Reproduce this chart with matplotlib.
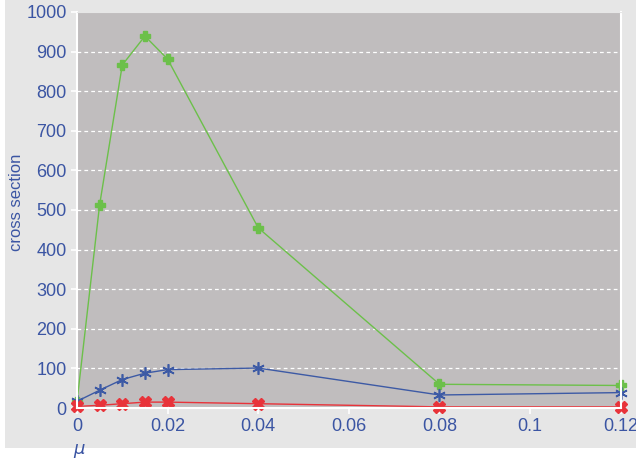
import numpy as np
import matplotlib.pyplot as plt
from matplotlib.patches import Rectangle

plt.rcParams['font.family'] = ['Liberation Sans', 'DejaVu Sans']

mu = [0, 0.005, 0.01, 0.015, 0.02, 0.04, 0.08, 0.12]
green_vals = [15, 513, 866, 939, 881, 455, 60, 57]
blue_vals = [17, 45, 72, 88, 97, 101, 33, 39]
red_vals = [4, 7, 11, 15, 15, 11, 3, 3]

xticks = [0, 0.02, 0.04, 0.06, 0.08, 0.1, 0.12]
xticklabels = ['0', '0.02', '0.04', '0.06', '0.08', '0.1', '0.12']
yticks = list(range(0, 1001, 100))

txt = '#3b55a3'

fig = plt.figure(figsize=(6.36, 4.59), dpi=100)
fig.patch.set_facecolor('white')
# light grey frame behind the plot
fig.add_artist(Rectangle((0.008, 0.024), 0.992, 0.976, transform=fig.transFigure,
                         facecolor='#e6e6e6', edgecolor='none', zorder=-10))

ax = fig.add_axes([0.121, 0.111, 0.855, 0.863])
ax.set_facecolor('#c0bdbe')

for y in yticks[1:-1]:
    ax.axhline(y, color='white', lw=0.9, ls=(0, (3, 2.5)), zorder=1)

ax.plot(mu, green_vals, color='#6cc04a', lw=1.0, marker='P', ms=7,
        mec='#6cc04a', mfc='#6cc04a', zorder=3)
ax.plot(mu, blue_vals, color='#3d5aa5', lw=1.0, marker=(6, 2, 0), ms=9,
        mec='#3d5aa5', mew=1.2, zorder=4)
ax.plot(mu, red_vals, color='#e8333a', lw=1.0, marker='X', ms=9,
        mec='#e8333a', mfc='#e8333a', zorder=5)

ax.set_xlim(0, 0.12)
ax.set_ylim(0, 1000)
ax.set_xticks(xticks)
ax.set_xticklabels(xticklabels)
ax.set_yticks(yticks)

for side in ['left', 'bottom', 'right']:
    ax.spines[side].set_color('white')
    ax.spines[side].set_linewidth(1.5)
ax.spines['top'].set_color('#e6e6e6')

ax.tick_params(colors='white', labelcolor=txt, labelsize=13, length=4, width=1.2)
ax.set_xlabel('$\\mu$', color=txt, fontsize=13)
ax.xaxis.set_label_coords(0.005, -0.085)
ax.set_ylabel('cross section', color=txt, fontsize=12)
ax.yaxis.set_label_coords(-0.097, 0.52)

for sp in ax.spines.values():
    sp.set_zorder(6)
for line in ax.lines:
    line.set_clip_on(False)

fig.savefig('out.png', dpi=100)
